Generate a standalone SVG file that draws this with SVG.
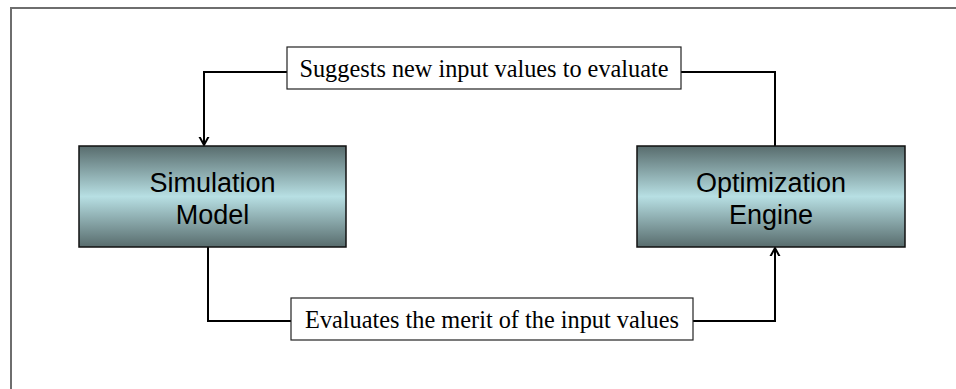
<svg xmlns="http://www.w3.org/2000/svg" width="956" height="389" viewBox="0 0 956 389">
  <style>
    .node { stroke: #111; stroke-width: 1.5; }
    .ntext { font-family: "Liberation Sans", Arial, sans-serif; font-size: 27px; fill: #000; text-anchor: middle; }
    .lbox { fill: #fff; stroke: #222; stroke-width: 1.2; }
    .ltext { font-family: "Liberation Serif", "Times New Roman", serif; font-size: 24.3px; fill: #000; text-anchor: middle; }
    .conn { fill: none; stroke: #000; stroke-width: 2; }
    .frame { fill: none; stroke: #6e6e6e; stroke-width: 2; }
  </style>
  <defs>
    <linearGradient id="boxGrad" x1="0" y1="0" x2="0" y2="1">
      <stop offset="0" stop-color="#586c6d"/>
      <stop offset="0.5" stop-color="#b7dfe3"/>
      <stop offset="1" stop-color="#586c6d"/>
    </linearGradient>
    <marker id="arrow" markerUnits="userSpaceOnUse" markerWidth="16" markerHeight="16" viewBox="-8 -8 16 16" refX="0" refY="0" orient="auto">
      <path d="M-11,-6 L0,0 L-11,6" fill="none" stroke="#000" stroke-width="2"/>
    </marker>
  </defs>

  <path class="frame" d="M11,389 V8 H956"/>

  <g id="connectors">
    <path class="conn" d="M287,72 H204 V145" marker-end="url(#arrow)"/>
    <path class="conn" d="M681,72 H775 V146"/>
    <path class="conn" d="M208,247 V321 H291"/>
    <path class="conn" d="M693,321 H775 V248" marker-end="url(#arrow)"/>
  </g>

  <g id="simulation-model">
    <rect class="node" x="79" y="146" width="267" height="101" fill="url(#boxGrad)"/>
    <text class="ntext" x="212.5" y="192">Simulation</text>
    <text class="ntext" x="212.5" y="224">Model</text>
  </g>

  <g id="optimization-engine">
    <rect class="node" x="637" y="146" width="268" height="101" fill="url(#boxGrad)"/>
    <text class="ntext" x="771" y="192">Optimization</text>
    <text class="ntext" x="771" y="224">Engine</text>
  </g>

  <g id="label-suggests">
    <rect class="lbox" x="287" y="47" width="394" height="42"/>
    <text class="ltext" x="484" y="77">Suggests new input values to evaluate</text>
  </g>

  <g id="label-evaluates">
    <rect class="lbox" x="291" y="298" width="402" height="42"/>
    <text class="ltext" x="492" y="328">Evaluates the merit of the input values</text>
  </g>
</svg>
